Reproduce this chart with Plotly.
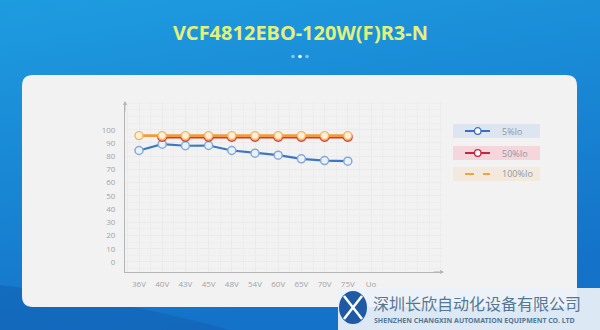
import base64
import plotly.graph_objects as go

W, H = 600, 330

categories = ["36V", "40V", "43V", "45V", "48V", "54V", "60V", "65V", "70V", "75V"]
axis_end_label = "Uo"
eff_5 = [84.3, 89.1, 87.9, 88.1, 84.3, 82.3, 80.8, 78.0, 76.7, 76.2]
eff_50 = [None, 94.6, 94.6, 94.6, 94.6, 94.6, 94.6, 94.6, 94.6, 94.6]
eff_100 = [95.6, 95.6, 95.6, 95.6, 95.6, 95.6, 95.6, 95.6, 95.6, 95.6]
y_ticks = [0, 10, 20, 30, 40, 50, 60, 70, 80, 90, 100]
series_names = ["5%Io", "50%Io", "100%Io"]
title_text = "VCF4812EBO-120W(F)R3-N"
company_cn = "深圳长欣自动化设备有限公司"
company_en = "SHENZHEN CHANGXIN AUTOMATION EQUIPMENT CO. LTD"


def px(x):
    return x / W


def py(y):
    return 1 - y / H


xi = list(range(len(categories)))
tickvals = xi + [len(categories)]
ticktext = categories + [axis_end_label]

fig = go.Figure()

fig.add_trace(go.Scatter(
    x=xi, y=eff_5, mode="lines+markers", name=series_names[0],
    line=dict(color="#3b78c2", width=2.2),
    marker=dict(size=8, color="#eaf1f9", line=dict(color="#86a9d2", width=1.5)),
    showlegend=False))
fig.add_trace(go.Scatter(
    x=xi, y=eff_50, mode="lines+markers", name=series_names[1],
    line=dict(color="#d8382a", width=3),
    marker=dict(size=8.5, color="#fbe3d2", line=dict(color="#d23a2e", width=1.5)),
    showlegend=False))
fig.add_trace(go.Scatter(
    x=xi, y=eff_100, mode="lines+markers", name=series_names[2],
    line=dict(color="#f39a3c", width=2.6),
    marker=dict(size=8, color="#fdf0d4", line=dict(color="#f4b466", width=1.4)),
    showlegend=False))

# background gradient as svg image
svg = ("<svg xmlns='http://www.w3.org/2000/svg' width='600' height='330'>"
       "<defs><linearGradient id='g' x1='0' y1='0' x2='0.3' y2='1'>"
       "<stop offset='0' stop-color='#1e9ce0'/><stop offset='1' stop-color='#1472c8'/>"
       "</linearGradient></defs>"
       "<rect width='600' height='330' fill='url(#g)'/>"
       "<path d='M0 285 Q120 300 230 330 L0 330 Z' fill='#1260b2' opacity='0.55'/>"
       "</svg>")
src = "data:image/svg+xml;base64," + base64.b64encode(svg.encode()).decode()

shapes = []
# card with rounded corners
x0, x1, y0, y1, r = 22, 577, 75, 307, 11
path = (f"M{px(x0 + r)},{py(y0)} L{px(x1 - r)},{py(y0)} Q{px(x1)},{py(y0)} {px(x1)},{py(y0 + r)} "
        f"L{px(x1)},{py(y1 - r)} Q{px(x1)},{py(y1)} {px(x1 - r)},{py(y1)} "
        f"L{px(x0 + r)},{py(y1)} Q{px(x0)},{py(y1)} {px(x0)},{py(y1 - r)} "
        f"L{px(x0)},{py(y0 + r)} Q{px(x0)},{py(y0)} {px(x0 + r)},{py(y0)} Z")
shapes.append(dict(type="path", path=path, xref="paper", yref="paper",
                   fillcolor="#f2f2f2", line=dict(width=0), layer="below"))

# legend boxes
leg_rows = [(124, 138, "#dde5f1", "#3b6fc4", "solid", True, "#3b6fc4"),
            (146, 160, "#f4d6dc", "#c8243a", "solid", True, "#c8243a"),
            (167, 181, "#f3e9dd", "#f2a43a", "dash", False, None)]
annotations = []
for (t, b, bg, lc, dash, mk, mc), name in zip(leg_rows, series_names):
    shapes.append(dict(type="rect", xref="paper", yref="paper",
                       x0=px(453), x1=px(540), y0=py(b), y1=py(t),
                       fillcolor=bg, line=dict(width=0), layer="above"))
    cy = (t + b) / 2
    shapes.append(dict(type="line", xref="paper", yref="paper",
                       x0=px(465), x1=px(490), y0=py(cy), y1=py(cy),
                       line=dict(color=lc, width=2, dash=dash), layer="above"))
    if mk:
        shapes.append(dict(type="circle", xref="paper", yref="paper",
                           x0=px(474.5), x1=px(481), y0=py(cy + 3.3), y1=py(cy - 3.3),
                           fillcolor="#ffffff", line=dict(color=mc, width=1.3), layer="above"))
    annotations.append(dict(text=name, x=px(500), y=py(cy), xref="paper", yref="paper",
                            xanchor="left", yanchor="middle", showarrow=False,
                            font=dict(size=9, color="#8f98a4", family="Open Sans")))

# bottom banner
shapes.append(dict(type="rect", xref="paper", yref="paper",
                   x0=px(338), x1=1, y0=0, y1=py(288),
                   fillcolor="rgba(236,242,248,0.93)", line=dict(width=0), layer="above"))
shapes.append(dict(type="circle", xref="paper", yref="paper",
                   x0=px(339), x1=px(367), y0=py(324), y1=py(291),
                   fillcolor="#1f5aa5", line=dict(width=0), layer="above"))
shapes.append(dict(type="line", xref="paper", yref="paper",
                   x0=px(344), x1=px(362), y0=py(296), y1=py(319),
                   line=dict(color="#ffffff", width=2.5), layer="above"))
shapes.append(dict(type="line", xref="paper", yref="paper",
                   x0=px(344), x1=px(362), y0=py(319), y1=py(296),
                   line=dict(color="#ffffff", width=2.5), layer="above"))

# title dots
for cx, col in [(293, "#86c6f2"), (300, "#ffffff"), (307, "#86c6f2")]:
    shapes.append(dict(type="circle", xref="paper", yref="paper",
                       x0=px(cx - 1.8), x1=px(cx + 1.8), y0=py(56.5 + 1.8), y1=py(56.5 - 1.8),
                       fillcolor=col, line=dict(width=0), layer="above"))

annotations += [
    dict(text=title_text, x=0.5, y=py(33), xref="paper", yref="paper",
         xanchor="center", yanchor="middle", showarrow=False,
         font=dict(size=20, color="#e3f07c", family="Noto Sans", weight="bold")),
    dict(text=company_cn, x=px(371), y=py(302.5), xref="paper", yref="paper",
         xanchor="left", yanchor="middle", showarrow=False,
         font=dict(size=16, color="#557796", family="Noto Sans CJK SC")),
    dict(text=company_en, x=px(372), y=py(320.5), xref="paper", yref="paper",
         xanchor="left", yanchor="middle", showarrow=False,
         font=dict(size=7, color="#557796", family="Noto Sans", weight="bold")),
    # axis arrows
    dict(x=px(125), y=py(101), xref="paper", yref="paper", ax=0, ay=12,
         showarrow=True, arrowhead=2, arrowsize=0.8, arrowwidth=1, arrowcolor="#b5b5b5", text=""),
    dict(x=px(444), y=py(272), xref="paper", yref="paper", ax=-12, ay=0,
         showarrow=True, arrowhead=2, arrowsize=0.8, arrowwidth=1, arrowcolor="#b5b5b5", text=""),
]

x_lo = (125 - 139) / 23.2
x_hi = (443 - 139) / 23.2

fig.update_layout(
    width=W, height=H, margin=dict(l=0, r=0, t=0, b=0),
    paper_bgcolor="#1a88d4", plot_bgcolor="rgba(0,0,0,0)",
    images=[dict(source=src, xref="paper", yref="paper", x=0, y=1, sizex=1, sizey=1,
                 sizing="stretch", layer="below", xanchor="left", yanchor="top")],
    shapes=shapes, annotations=annotations, showlegend=False,
    xaxis=dict(domain=[px(125), px(443)], range=[x_lo, x_hi],
               tickvals=tickvals, ticktext=ticktext, ticks="",
               showgrid=True, gridcolor="#ebebeb", gridwidth=1,
               minor=dict(dtick=0.5, tick0=0, showgrid=True, gridcolor="#ececec"),
               showline=True, linecolor="#b5b5b5", linewidth=1, zeroline=False,
               tickfont=dict(size=8, color="#a3a3a3", family="Open Sans"),
               ticklabelstandoff=4, fixedrange=True),
    yaxis=dict(domain=[py(272), py(102)], range=[-7.6, 121],
               tickvals=y_ticks, ticks="",
               showgrid=True, gridcolor="#ebebeb", gridwidth=1,
               minor=dict(dtick=5, showgrid=True, gridcolor="#eeeeee"),
               showline=True, linecolor="#b5b5b5", linewidth=1, zeroline=False,
               tickfont=dict(size=8, color="#a3a3a3", family="Open Sans"),
               ticklabelstandoff=7, fixedrange=True),
)

fig.write_html("out.html")
